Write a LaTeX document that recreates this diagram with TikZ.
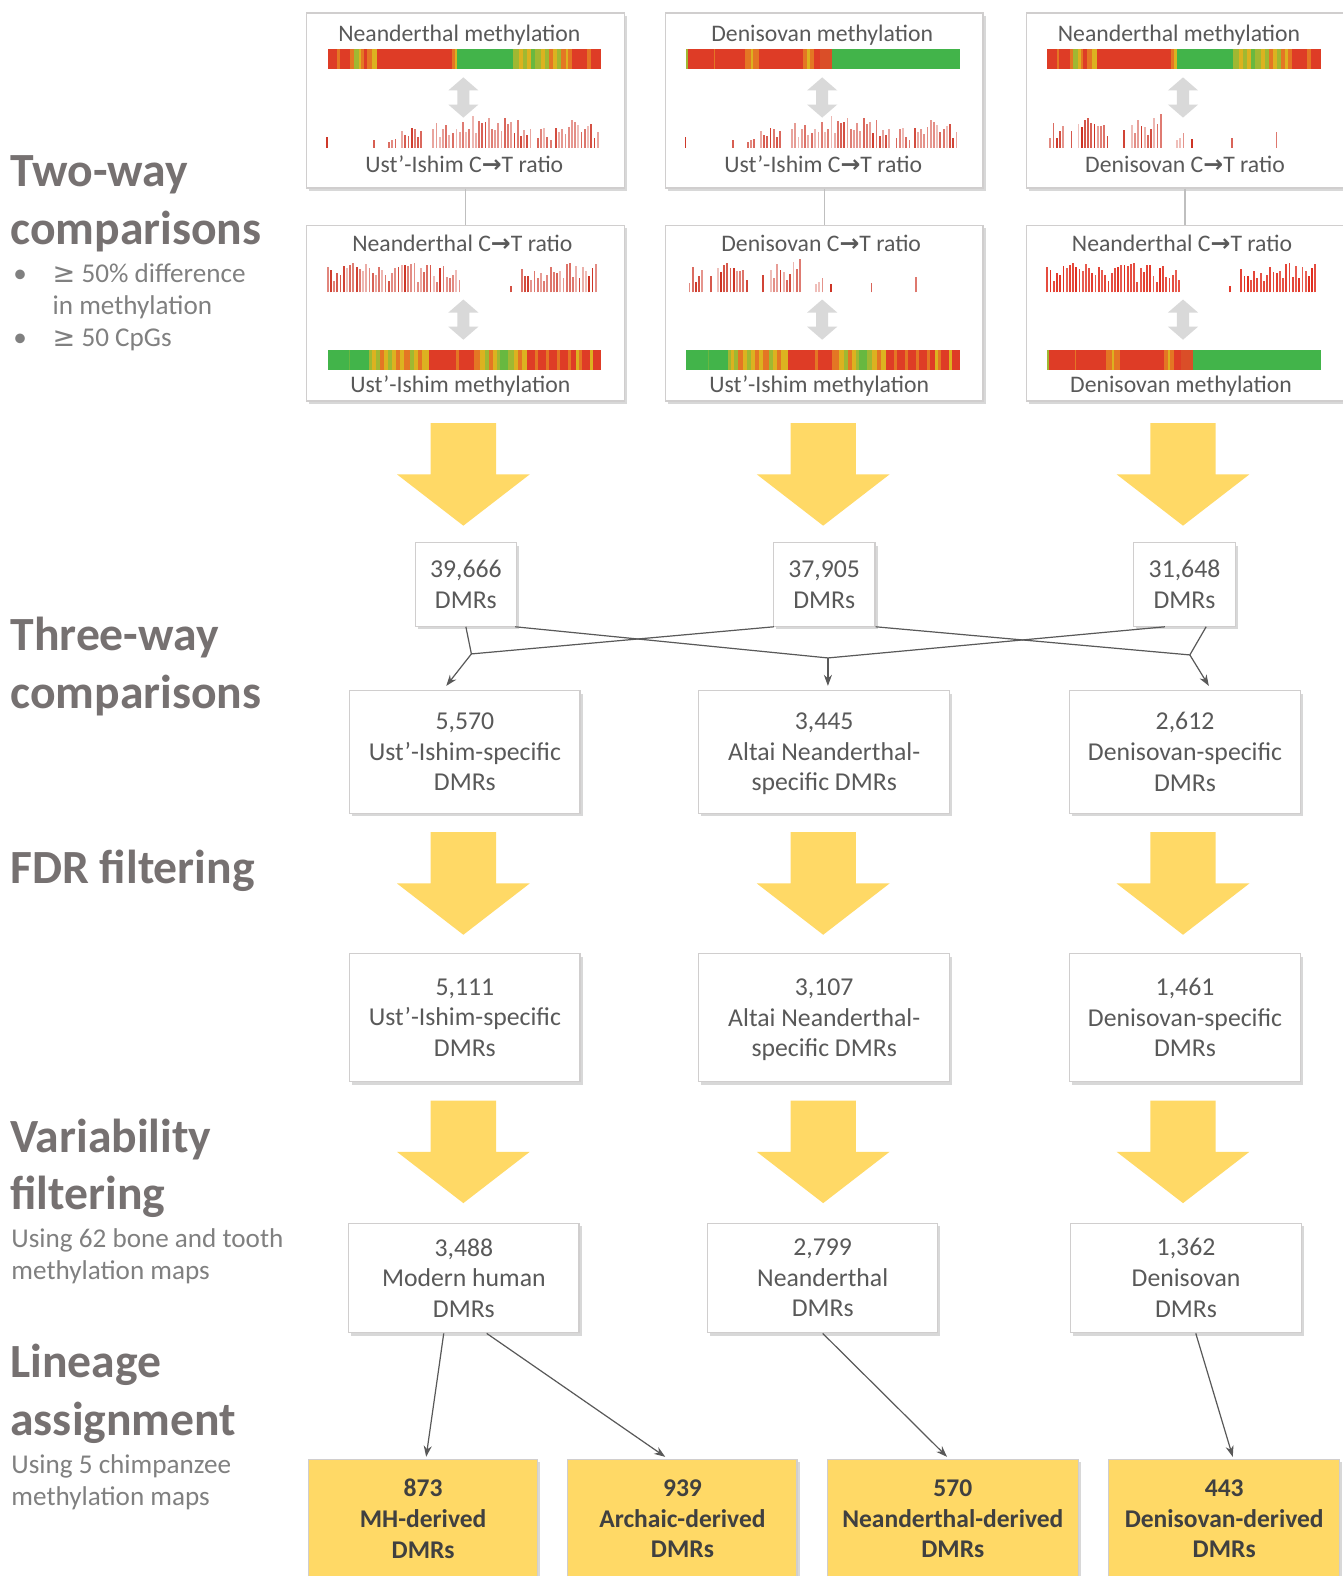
\documentclass[tikz,border=0pt]{standalone}
\usepackage{fontspec}
\setmainfont{Carlito}
\newfontfamily\symf{DejaVu Sans}
\usetikzlibrary{shadows,arrows.meta,calc}

\definecolor{txt}{HTML}{595959}
\definecolor{headc}{HTML}{767171}
\definecolor{subc}{HTML}{808080}
\definecolor{yel}{HTML}{FFD966}
\definecolor{bord}{HTML}{D0CECE}
\definecolor{darktxt}{HTML}{404040}
\definecolor{connc}{HTML}{595959}
\definecolor{lightc}{HTML}{BFBFBF}
\definecolor{cR}{RGB}{222,60,38}
\definecolor{cR2}{RGB}{218,78,40}
\definecolor{cO}{RGB}{228,118,36}
\definecolor{cY}{RGB}{220,178,32}
\definecolor{cYG}{RGB}{160,184,50}
\definecolor{cG}{RGB}{66,180,74}
\definecolor{cG2}{RGB}{104,184,64}
\definecolor{barc}{RGB}{205,50,35}
\definecolor{barc2}{RGB}{225,45,30}
\definecolor{darr}{HTML}{D9D9D9}

\tikzset{
  shad/.style={drop shadow={shadow xshift=1.3pt,shadow yshift=-1.5pt,opacity=0.3}},
  panel/.style={draw=bord,fill=white,line width=0.6pt,shad,minimum width=158pt,inner sep=0pt},
  ptext/.style={text=txt,font=\fontsize{11.8pt}{14pt}\selectfont,inner sep=0pt,anchor=mid},
  box/.style={draw=bord,fill=white,line width=0.6pt,shad,align=center,text=txt,
    font=\fontsize{12.8pt}{15.25pt}\selectfont,inner sep=0pt},
  lbox/.style={draw=bord,fill=yel,line width=0.6pt,shad,align=center,text=darktxt,
    font=\fontsize{12.7pt}{15.25pt}\selectfont\bfseries,inner sep=0pt,minimum height=59pt},
  hd/.style={text=headc,font=\fontsize{23.7pt}{26pt}\selectfont\bfseries,inner sep=0pt,anchor=base west},
  sb/.style={text=subc,font=\fontsize{13.5pt}{15pt}\selectfont,inner sep=0pt,anchor=base west},
  conn/.style={draw=connc,line width=0.6pt},
  arr/.style={conn,-{Stealth[length=5.5pt,width=4pt]}},
  ctbar/.style={draw=barc,line width=0.9pt},
  ctbar2/.style={draw=barc2,line width=0.9pt},
}

% heatmap: #1 top y, #2 list macro
\newcommand\heatmap[2]{%
  \foreach \a/\b/\c in #2 {\fill[\c] ({21+2.72*\a},#1) rectangle ({21+2.72*\b+0.4},{#1+20});}}
% chart: #1 seed, #2 baseline, #3 list macro, #4 style, #5 min opacity
\newcommand\ctchart[5]{%
  \pgfmathsetseed{#1}%
  \foreach \a/\n/\h in #3 {%
    \foreach \i in {1,...,\n} {%
      \pgfmathsetmacro\xx{\a+3.2*(\i-1)}%
      \pgfmathsetmacro\hh{\h*(0.35+0.65*rnd)}%
      \pgfmathsetmacro\op{#5+(1-#5)*rnd}%
      \draw[#4,opacity=\op] (\xx,#2) -- (\xx,{#2-\hh});
    }}}
\newcommand\dblarrow[2]{%
  \fill[darr] (#1,{#2-20}) -- ({#1+15},{#2-7}) -- ({#1+6},{#2-7}) -- ({#1+6},{#2+7}) -- ({#1+15},{#2+7})
   -- (#1,{#2+20}) -- ({#1-15},{#2+7}) -- ({#1-6},{#2+7}) -- ({#1-6},{#2-7}) -- ({#1-15},{#2-7}) -- cycle;}
\newcommand\yarrow[2]{%
  \fill[yel] ({#1-32.5},#2) -- ({#1+32.5},#2) -- ({#1+32.5},{#2+51}) -- ({#1+66},{#2+51})
   -- (#1,{#2+102}) -- ({#1-66},{#2+51}) -- ({#1-32.5},{#2+51}) -- cycle;}
\newcommand\CT{C{\symf\bfseries →}T}
\newcommand\nodepth[1]{\raisebox{0pt}[\height][0pt]{#1}}

\def\heatN{0/3.4/cR,3.4/4.4/cO,4.4/8.2/cR,8.2/9.5/cO,9.5/11.3/cYG,11.3/12.2/cY,12.2/13.2/cO,13.2/14.4/cR,14.4/16.2/cO,16.2/18/cY,18/45.4/cR,45.4/46.4/cO,46.4/47.4/cY,47.4/67.9/cG,67.9/70/cYG,70/71.5/cY,71.5/73/cYG,73/74.5/cY,74.5/76/cG2,76/78/cYG,78/79.5/cY,79.5/81/cYG,81/82.5/cO,82.5/84/cY,84/85.5/cYG,85.5/87/cO,87/88/cY,88/89.5/cO,89.5/95/cR,95/96.5/cO,96.5/100/cR}
\def\heatD{0/0.7/cYG,0.7/10/cR,10/10.6/cO,10.6/21.5/cR,21.5/23.5/cO,23.5/24.5/cY,24.5/26.5/cO,26.5/42.5/cR,42.5/44/cO,44/45/cY,45/46.5/cO,46.5/49/cR,49/53.3/cR2,53.3/100/cG}
\def\heatU{0/7.7/cG,7.7/8.3/cG2,8.3/15/cG,15/16.2/cYG,16.2/17.5/cY,17.5/19/cYG,19/20.5/cO,20.5/22/cY,22/23.5/cYG,23.5/25/cY,25/26.5/cO,26.5/28/cY,28/30/cO,30/31.5/cYG,31.5/33/cY,33/34.5/cO,34.5/37/cY,37/47/cR,47/48/cO,48/53.4/cR,53.4/55.8/cO,55.8/57.5/cY,57.5/59/cYG,59/60.5/cO,60.5/62/cY,62/63/cYG,63/66/cG2,66/68/cYG,68/69.5/cY,69.5/71/cO,71/72.8/cY,72.8/76/cR,76/77/cO,77/80/cR,80/81/cO,81/84/cR,84/85/cO,85/88/cR,88/89/cO,89/91/cR,91/92/cY,92/93/cO,93/96/cR,96/97/cY,97/100/cR}
\def\chU{20/1/14,67/1/14,82/3/16,95/7/22,126/6/26,146/25/34,230/5/22,248/14/28}
\def\chD{24/5/26,45/1/20,52/10/34,97/1/20,105/10/34,150/3/16,165/1/14,205/1/12,249/1/25}
\def\chN{21/42/30,203/1/18,214/24/30}

\begin{document}
\begin{tikzpicture}[x=0.5pt,y=-0.5pt]
\useasboundingbox (0,0) rectangle (1336,1568);
\fill[white] (0,0) rectangle (1336,1568);

% ---------- left headings ----------
\node[hd] (h1) at (10,186) {Two-way};
\node[hd] (h2) at (10,243) {comparisons};
\node[sb] (b1) at (13,281) {•};
\node[sb] (s1) at (52,281) {{\symf ≥} 50\% difference};
\node[sb] (s2) at (52,313) {in methylation};
\node[sb] (b2) at (13,345) {•};
\node[sb] (s3) at (52,345) {{\symf ≥} 50 CpGs};
\node[hd] (h3) at (10,647) {Three-way};
\node[hd] (h4) at (10,705) {comparisons};
\node[hd] (h5) at (10,879) {FDR filtering};
\node[hd] (h6) at (10,1147) {Variability};
\node[hd] (h7) at (10,1203) {filtering};
\node[sb] (s4) at (11,1241) {Using 62 bone and tooth};
\node[sb] (s5) at (11,1273) {methylation maps};
\node[hd] (h8) at (10,1370) {Lineage};
\node[hd] (h9) at (10,1428) {assignment};
\node[sb] (s6) at (11,1466) {Using 5 chimpanzee};
\node[sb] (s7) at (11,1498) {methylation maps};

% ---------- panels ----------
\node[panel,minimum height=87pt] (p11) at (463,100) {};
\node[panel,minimum height=87pt] (p21) at (820,100) {};
\node[panel,minimum height=87pt] (p31) at (1179,100) {};
\node[panel,minimum height=87.5pt] (p12) at (463,311.5) {};
\node[panel,minimum height=87.5pt] (p22) at (820,311.5) {};
\node[panel,minimum height=87.5pt] (p32) at (1179,311.5) {};
\draw[lightc,line width=0.6pt] (p11.south) -- (p12.north);
\draw[lightc,line width=0.6pt] (p21.south) -- (p22.north);
\draw[lightc,line width=0.6pt] (p31.south) -- (p32.north);

% panel 1,1
\begin{scope}[shift={(305,13)}]
  \node[ptext] (t11a) at (152,24) {Neanderthal methylation};
  \heatmap{36}{\heatN}
  \dblarrow{156}{84}
  \ctchart{11}{134}{\chU}{ctbar}{0.3}
  \node[ptext] (t11b) at (157,154) {Ust’-Ishim \CT\ ratio};
\end{scope}
% panel 2,1
\begin{scope}[shift={(662,13)}]
  \node[ptext] (t21a) at (156,24) {Denisovan methylation};
  \heatmap{36}{\heatD}
  \dblarrow{156}{84}
  \ctchart{11}{134}{\chU}{ctbar}{0.3}
  \node[ptext] (t21b) at (157,154) {Ust’-Ishim \CT\ ratio};
\end{scope}
% panel 3,1
\begin{scope}[shift={(1021,13)}]
  \node[ptext] (t31a) at (152,24) {Neanderthal methylation};
  \heatmap{36}{\heatN}
  \dblarrow{156}{84}
  \ctchart{23}{134}{\chD}{ctbar}{0.3}
  \node[ptext] (t31b) at (158,154) {Denisovan \CT\ ratio};
\end{scope}
% panel 1,2
\begin{scope}[shift={(305,224)}]
  \node[ptext] (t12a) at (155,21) {Neanderthal \CT\ ratio};
  \ctchart{37}{67}{\chN}{ctbar}{0.3}
  \dblarrow{156}{94}
  \heatmap{124}{\heatU}
  \node[ptext] (t12b) at (153,162) {Ust’-Ishim methylation};
\end{scope}
% panel 2,2
\begin{scope}[shift={(662,224)}]
  \node[ptext] (t22a) at (155,21) {Denisovan \CT\ ratio};
  \ctchart{23}{67}{\chD}{ctbar}{0.3}
  \dblarrow{156}{94}
  \heatmap{124}{\heatU}
  \node[ptext] (t22b) at (153,162) {Ust’-Ishim methylation};
\end{scope}
% panel 3,2
\begin{scope}[shift={(1021,224)}]
  \node[ptext] (t32a) at (155,21) {Neanderthal \CT\ ratio};
  \ctchart{37}{67}{\chN}{ctbar2}{0.75}
  \dblarrow{156}{94}
  \heatmap{124}{\heatD}
  \node[ptext] (t32b) at (154,162) {Denisovan methylation};
\end{scope}

% ---------- yellow arrows ----------
\foreach \cx in {461,819,1177} {
  \yarrow{\cx}{421}
  \yarrow{\cx}{828}
  \yarrow{\cx}{1095}
}

% ---------- DMR boxes ----------
\node[box,minimum width=50.5pt,minimum height=41.5pt] (d1) at (463.5,581.5) {39,666\\DMRs};
\node[box,minimum width=50.5pt,minimum height=41.5pt] (d2) at (820,581.5) {37,905\\DMRs};
\node[box,minimum width=50.5pt,minimum height=41.5pt] (d3) at (1178.5,581.5) {31,648\\DMRs};

\node[box,minimum width=114.5pt,minimum height=61pt] (t1) at (462.5,748) {5,570\\Ust’-Ishim-specific\\DMRs};
\node[box,minimum width=125pt,minimum height=61pt] (t2) at (820,748) {3,445\\Altai Neanderthal-\\\nodepth{specific DMRs}};
\node[box,minimum width=115pt,minimum height=61pt] (t3) at (1179,748) {2,612\\Denisovan-specific\\DMRs};

\node[box,minimum width=114.5pt,minimum height=63.5pt] (f1) at (462.5,1012.5) {5,111\\Ust’-Ishim-specific\\DMRs};
\node[box,minimum width=125pt,minimum height=63.5pt] (f2) at (820,1012.5) {3,107\\Altai Neanderthal-\\\nodepth{specific DMRs}};
\node[box,minimum width=115pt,minimum height=63.5pt] (f3) at (1179,1012.5) {1,461\\Denisovan-specific\\DMRs};

\node[box,minimum width=114.5pt,minimum height=54.5pt] (v1) at (461.5,1271.5) {3,488\\Modern human\\DMRs};
\node[box,minimum width=114.5pt,minimum height=54.5pt] (v2) at (818.5,1271.5) {2,799\\Neanderthal\\DMRs};
\node[box,minimum width=115pt,minimum height=54.5pt] (v3) at (1180,1271.5) {1,362\\Denisovan\\DMRs};

\node[lbox,minimum width=114pt] (l1) at (421,1511) {873\\MH-derived\\DMRs};
\node[lbox,minimum width=114pt] (l2) at (679,1511) {939\\Archaic-derived\\DMRs};
\node[lbox,minimum width=125pt] (l3) at (948,1511) {570\\Neanderthal-derived\\DMRs};
\node[lbox,minimum width=115pt] (l4) at (1218,1511) {443\\Denisovan-derived\\DMRs};

% ---------- three-way connectors ----------
\coordinate (j1) at (469,650.6);
\coordinate (j2) at (823.7,654.6);
\coordinate (j3) at (1183.8,651.6);
\draw[conn] (d1.south) -- (j1);
\draw[conn] ([xshift=0.5pt]d2.south west) -- (j1);
\draw[conn] ([xshift=-1pt]d1.south east) -- (j2);
\draw[conn] ([xshift=-9.75pt]d3.south) -- (j2);
\draw[conn] (d2.south east) -- (j3);
\draw[conn] ([xshift=10.75pt]d3.south) -- (j3);
\draw[arr] (j1) -- ([xshift=-9.25pt,yshift=2pt]t1.north);
\draw[arr] (j2) -- ([yshift=2pt]j2 |- t2.north);
\draw[arr] (j3) -- ([xshift=11.85pt,yshift=2pt]t3.north);

% ---------- lineage connectors ----------
\draw[arr] ([xshift=-10pt]v1.south) -- ([xshift=1.5pt,yshift=1pt]l1.north);
\draw[arr] ([xshift=11.35pt]v1.south) -- ([xshift=-8.6pt,yshift=1pt]l2.north);
\draw[arr] (v2.south) -- ([xshift=-2.9pt,yshift=1pt]l3.north);
\draw[arr] ([xshift=4.85pt]v3.south) -- ([xshift=4.25pt,yshift=1pt]l4.north);
\end{tikzpicture}
\end{document}
